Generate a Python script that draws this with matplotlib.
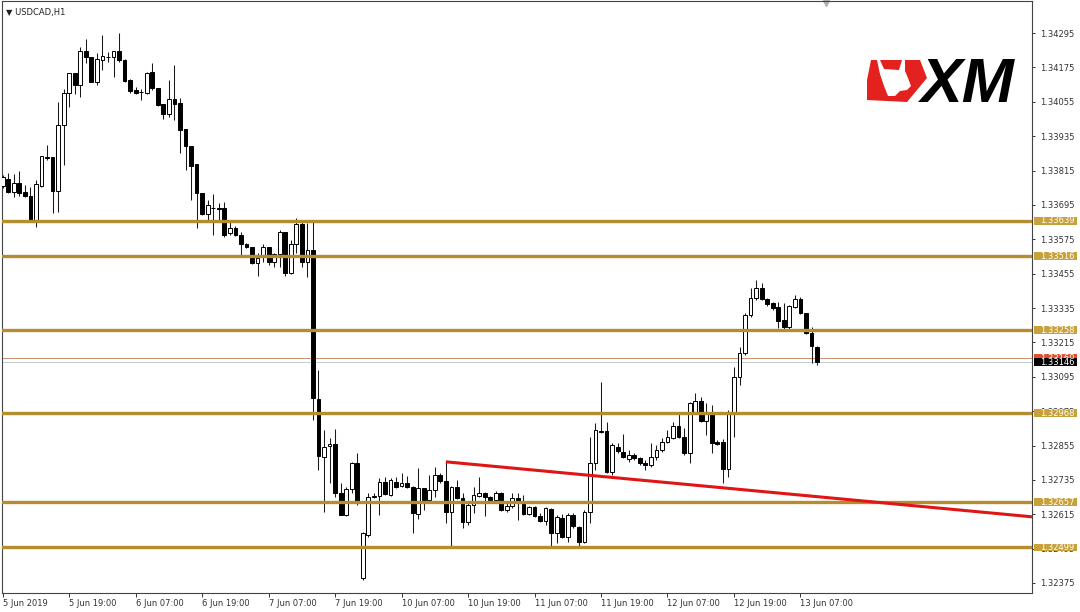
import numpy as np
import matplotlib
matplotlib.use('Agg')
import matplotlib.pyplot as plt
from matplotlib.patches import Polygon, Rectangle
from matplotlib.transforms import blended_transform_factory

# USDCAD H1 candles, 5 Jun 2019 07:00 -> 13 Jun 2019 10:00
opens = [
    1.33761, 1.33785, 1.33740, 1.33771, 1.33740, 1.33726, 1.33642, 1.33761, 1.33862, 1.33862,
    1.33743, 1.33974, 1.34085, 1.34155, 1.34113, 1.34232, 1.34211, 1.34124, 1.34201, 1.34211,
    1.34211, 1.34232, 1.34201, 1.34131, 1.34096, 1.34089, 1.34085, 1.34159, 1.34103, 1.34047,
    1.34012, 1.34065, 1.34051, 1.33960, 1.33900, 1.33838, 1.33736, 1.33663, 1.33684, 1.33684,
    1.33684, 1.33597, 1.33614, 1.33590, 1.33558, 1.33548, 1.33492, 1.33513, 1.33548, 1.33496,
    1.33523, 1.33600, 1.33457, 1.33558, 1.33628, 1.33496, 1.33537, 1.33017, 1.32815, 1.32854,
    1.32860, 1.32689, 1.32614, 1.32703, 1.32794, 1.32393, 1.32543, 1.32675, 1.32679, 1.32728,
    1.32682, 1.32728, 1.32714, 1.32724, 1.32710, 1.32616, 1.32707, 1.32665, 1.32700, 1.32752,
    1.32731, 1.32623, 1.32710, 1.32672, 1.32588, 1.32648, 1.32679, 1.32689, 1.32675, 1.32665,
    1.32689, 1.32630, 1.32644, 1.32672, 1.32658, 1.32616, 1.32641, 1.32609, 1.32592, 1.32634,
    1.32550, 1.32602, 1.32536, 1.32613, 1.32571, 1.32518, 1.32623, 1.32794, 1.32906, 1.32906,
    1.32763, 1.32850, 1.32833, 1.32808, 1.32822, 1.32812, 1.32794, 1.32787, 1.32815, 1.32840,
    1.32867, 1.32881, 1.32923, 1.32885, 1.32829, 1.32972, 1.33011, 1.32941, 1.32965, 1.32867,
    1.32867, 1.32773, 1.32972, 1.33094, 1.33178, 1.33311, 1.33370, 1.33405, 1.33366, 1.33353,
    1.33339, 1.33293, 1.33269, 1.33339, 1.33366, 1.33318, 1.33248, 1.33199,
]
highs = [
    1.33799, 1.33806, 1.33803, 1.33813, 1.33764, 1.33757, 1.33782, 1.33866, 1.33904, 1.33862,
    1.34054, 1.34099, 1.34155, 1.34155, 1.34246, 1.34274, 1.34211, 1.34225, 1.34288, 1.34229,
    1.34232, 1.34295, 1.34204, 1.34134, 1.34106, 1.34099, 1.34159, 1.34190, 1.34103, 1.34047,
    1.34131, 1.34183, 1.34068, 1.33960, 1.33900, 1.33838, 1.33736, 1.33712, 1.33733, 1.33702,
    1.33705, 1.33635, 1.33621, 1.33600, 1.33562, 1.33548, 1.33527, 1.33558, 1.33548, 1.33527,
    1.33607, 1.33600, 1.33572, 1.33649, 1.33642, 1.33632, 1.33635, 1.33119, 1.32909, 1.32881,
    1.32913, 1.32724, 1.32710, 1.32796, 1.32829, 1.32552, 1.32689, 1.32689, 1.32742, 1.32745,
    1.32742, 1.32745, 1.32759, 1.32749, 1.32714, 1.32777, 1.32707, 1.32752, 1.32780, 1.32759,
    1.32798, 1.32714, 1.32735, 1.32689, 1.32654, 1.32710, 1.32745, 1.32693, 1.32679, 1.32696,
    1.32693, 1.32654, 1.32689, 1.32689, 1.32682, 1.32644, 1.32644, 1.32620, 1.32641, 1.32637,
    1.32613, 1.32616, 1.32620, 1.32620, 1.32574, 1.32630, 1.32885, 1.32934, 1.33077, 1.32937,
    1.32864, 1.32864, 1.32895, 1.32840, 1.32829, 1.32815, 1.32805, 1.32864, 1.32857, 1.32881,
    1.32909, 1.32937, 1.32969, 1.32916, 1.33007, 1.33038, 1.33024, 1.33004, 1.32997, 1.32874,
    1.32878, 1.32979, 1.33129, 1.33199, 1.33318, 1.33405, 1.33433, 1.33422, 1.33370, 1.33356,
    1.33356, 1.33353, 1.33346, 1.33380, 1.33373, 1.33318, 1.33269, 1.33202,
]
lows = [
    1.33754, 1.33736, 1.33723, 1.33726, 1.33723, 1.33638, 1.33618, 1.33757, 1.33852, 1.33667,
    1.33670, 1.33834, 1.34037, 1.34082, 1.34071, 1.34190, 1.34124, 1.34113, 1.34166, 1.34194,
    1.34141, 1.34194, 1.34124, 1.34085, 1.34082, 1.34061, 1.34082, 1.34096, 1.34040, 1.33995,
    1.34002, 1.33991, 1.33876, 1.33817, 1.33712, 1.33614, 1.33660, 1.33642, 1.33590, 1.33642,
    1.33583, 1.33590, 1.33586, 1.33520, 1.33544, 1.33490, 1.33447, 1.33496, 1.33485, 1.33478,
    1.33478, 1.33447, 1.33454, 1.33527, 1.33478, 1.33443, 1.32944, 1.32770, 1.32623, 1.32724,
    1.32675, 1.32612, 1.32609, 1.32689, 1.32648, 1.32386, 1.32536, 1.32672, 1.32613, 1.32682,
    1.32679, 1.32707, 1.32710, 1.32707, 1.32550, 1.32599, 1.32630, 1.32654, 1.32675, 1.32724,
    1.32585, 1.32501, 1.32668, 1.32567, 1.32578, 1.32620, 1.32675, 1.32609, 1.32658, 1.32658,
    1.32627, 1.32623, 1.32637, 1.32595, 1.32613, 1.32613, 1.32606, 1.32588, 1.32578, 1.32501,
    1.32515, 1.32532, 1.32518, 1.32567, 1.32501, 1.32515, 1.32585, 1.32770, 1.32899, 1.32759,
    1.32752, 1.32829, 1.32812, 1.32798, 1.32805, 1.32787, 1.32770, 1.32780, 1.32805, 1.32833,
    1.32864, 1.32878, 1.32881, 1.32822, 1.32794, 1.32969, 1.32937, 1.32892, 1.32829, 1.32857,
    1.32724, 1.32745, 1.32885, 1.33066, 1.33171, 1.33304, 1.33363, 1.33363, 1.33342, 1.33328,
    1.33265, 1.33262, 1.33262, 1.33335, 1.33314, 1.33244, 1.33143, 1.33136,
]
closes = [
    1.33792, 1.33740, 1.33771, 1.33736, 1.33726, 1.33642, 1.33768, 1.33866, 1.33859, 1.33743,
    1.33974, 1.34085, 1.34155, 1.34113, 1.34232, 1.34211, 1.34124, 1.34204, 1.34215, 1.34210,
    1.34232, 1.34201, 1.34127, 1.34092, 1.34085, 1.34088, 1.34155, 1.34103, 1.34044, 1.34012,
    1.34065, 1.34047, 1.33956, 1.33900, 1.33831, 1.33736, 1.33663, 1.33695, 1.33685, 1.33681,
    1.33590, 1.33614, 1.33590, 1.33558, 1.33548, 1.33493, 1.33510, 1.33548, 1.33496, 1.33523,
    1.33600, 1.33457, 1.33558, 1.33628, 1.33496, 1.33537, 1.33021, 1.32819, 1.32850, 1.32860,
    1.32689, 1.32614, 1.32703, 1.32794, 1.32654, 1.32550, 1.32675, 1.32679, 1.32728, 1.32686,
    1.32735, 1.32710, 1.32724, 1.32710, 1.32620, 1.32707, 1.32665, 1.32700, 1.32752, 1.32731,
    1.32623, 1.32710, 1.32672, 1.32588, 1.32648, 1.32682, 1.32689, 1.32675, 1.32665, 1.32689,
    1.32630, 1.32644, 1.32672, 1.32658, 1.32616, 1.32641, 1.32609, 1.32592, 1.32637, 1.32550,
    1.32606, 1.32536, 1.32613, 1.32574, 1.32518, 1.32623, 1.32794, 1.32909, 1.32902, 1.32763,
    1.32857, 1.32836, 1.32815, 1.32822, 1.32812, 1.32794, 1.32787, 1.32815, 1.32840, 1.32867,
    1.32885, 1.32923, 1.32885, 1.32829, 1.33004, 1.33011, 1.32941, 1.32972, 1.32864, 1.32860,
    1.32773, 1.32972, 1.33094, 1.33178, 1.33311, 1.33370, 1.33405, 1.33366, 1.33349, 1.33335,
    1.33290, 1.33269, 1.33342, 1.33366, 1.33318, 1.33248, 1.33202, 1.33146,
]

# time axis labels (every 12 bars)
tick_bars = [0, 12, 24, 36, 48, 60, 72, 84, 96, 108, 120, 132, 144]
tick_labels = ['5 Jun 2019', '5 Jun 19:00', '6 Jun 07:00', '6 Jun 19:00', '7 Jun 07:00',
               '7 Jun 19:00', '10 Jun 07:00', '10 Jun 19:00', '11 Jun 07:00', '11 Jun 19:00',
               '12 Jun 07:00', '12 Jun 19:00', '13 Jun 07:00']

# price scale
price_ticks = [1.32375, 1.32495, 1.32615, 1.32735, 1.32855, 1.32975, 1.33095, 1.33215,
               1.33335, 1.33455, 1.33575, 1.33695, 1.33815, 1.33935, 1.34055, 1.34175, 1.34295]

# horizontal support / resistance levels
levels = [1.33639, 1.33516, 1.33258, 1.32968, 1.32657, 1.32499]
ask_price = 1.33160
bid_price = 1.33146

# trend line (bar index, price)
trend_x = [80, 185.8]
trend_y = [1.32798, 1.32606]

GOLD_LINE = '#B58D2C'
GOLD_BOX = '#C8A13A'

plt.rcParams['font.family'] = ['DejaVu Sans']
plt.rcParams['font.size'] = 6

W, H = 1080, 612
fig = plt.figure(figsize=(W / 100, H / 100), dpi=100)
fig.patch.set_facecolor('white')
ax = fig.add_axes([2 / W, 19 / H, 1030 / W, 592 / H])

o = np.array(opens)
h = np.array(highs)
l = np.array(lows)
c = np.array(closes)
x = np.arange(len(o))

# wicks
ax.vlines(x, np.minimum(l, np.minimum(o, c)), np.maximum(h, np.maximum(o, c)),
          color='#1a1a1a', linewidth=0.75, zorder=3)
# bodies
bull = c >= o
body_bottom = np.minimum(o, c)
body_height = np.maximum(np.abs(c - o), 0.00001)
ax.bar(x, body_height, bottom=body_bottom, width=0.68,
       color=np.where(bull, 'white', 'black'), edgecolor='black', linewidth=0.7, zorder=4)

# bid / ask lines
ax.axhline(ask_price, color='#C9906E', linewidth=0.7, zorder=2)
ax.axhline(bid_price, color='#C4CCD6', linewidth=0.7, zorder=2)

# levels
for lv in levels:
    ax.axhline(lv, color=GOLD_LINE, linewidth=2.4, zorder=5)

# trend line
ax.plot(trend_x, trend_y, color='#E01515', linewidth=2.2, zorder=6, solid_capstyle='butt')

ax.set_xlim(-0.13, 185.8)
ax.set_ylim(1.32340, 1.34407)

ax.set_xticks(tick_bars)
ax.set_xticklabels(tick_labels, ha='left')
ax.tick_params(axis='x', direction='out', length=3, width=0.7, pad=1.5,
               colors='#333333', labelsize=6)

ax.yaxis.tick_right()
ax.set_yticks(price_ticks)
ax.set_yticklabels(['%.5f' % p for p in price_ticks])
ax.tick_params(axis='y', direction='out', length=2.5, width=0.7, pad=3.5,
               colors='#333333', labelsize=6)

for sp in ax.spines.values():
    sp.set_color('#444444')
    sp.set_linewidth(0.8)

# price labels on the right scale
trans = blended_transform_factory(ax.transAxes, ax.transData)
box_w = 43 / 1030
box_h = 0.00027


def price_tag(price, face, text_color='white', z=10):
    ax.add_patch(Rectangle((1.0015, price - box_h / 2), box_w, box_h, transform=trans,
                           facecolor=face, edgecolor='none', clip_on=False, zorder=z))
    ax.text(1.0078, price, '%.5f' % price, transform=trans, ha='left', va='center',
            color=text_color, fontsize=6, clip_on=False, zorder=z + 1)


for lv in levels:
    price_tag(lv, GOLD_BOX)
price_tag(ask_price, '#E2502E', z=12)
price_tag(bid_price, 'black', z=14)

# chart title
ax.text(0.004, 0.988, '\u25bc USDCAD,H1', transform=ax.transAxes, ha='left', va='top',
        fontsize=6, color='#222222')
# chart shift marker
ax.plot([0.8], [0.997], transform=ax.transAxes, marker='v', markersize=4,
        color='#b0b0b0', clip_on=False)


# XM logo (pixel positions on the figure)
def px(px_x, px_y):
    return (px_x / W, 1 - px_y / H)


flag = [px(871, 60), px(920, 60), px(927, 78), px(907, 102), px(867, 100), px(867, 80)]
fig.patches.append(Polygon(flag, closed=True, transform=fig.transFigure,
                           facecolor='#E3211E', edgecolor='none', zorder=20))
bull_head = [px(877, 60), px(880, 60), px(884, 69), px(899, 70), px(902, 60), px(905, 60),
             px(905, 71), px(908, 78), px(911, 86), px(907, 90), px(900, 91), px(895, 96),
             px(888, 96), px(884, 86), px(880, 74)]
fig.patches.append(Polygon(bull_head, closed=True, transform=fig.transFigure,
                           facecolor='white', edgecolor='none', zorder=21))
fig.text(*px(921, 102), 'XM', fontsize=45, fontweight='bold', fontstyle='italic',
         family='Liberation Sans', color='black', ha='left', va='baseline', zorder=22)

fig.savefig('out.png', dpi=100, facecolor='white')
